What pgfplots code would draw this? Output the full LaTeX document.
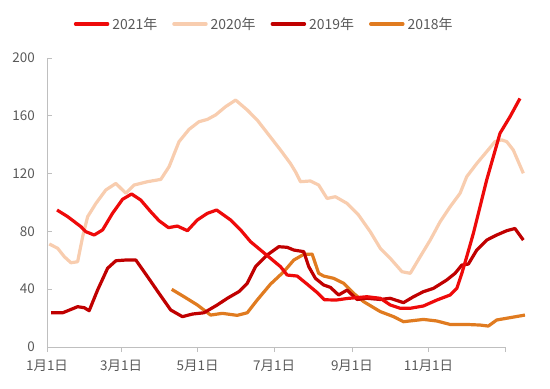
\documentclass[border=0pt]{standalone}
\usepackage{fontspec}
\setmainfont{Noto Sans CJK SC}
\usepackage{pgfplots}
\pgfplotsset{compat=1.18}
\definecolor{c21}{HTML}{EE0A0A}
\definecolor{c20}{HTML}{F8CDAF}
\definecolor{c19}{HTML}{C00000}
\definecolor{c18}{HTML}{E07B20}
\definecolor{axgray}{HTML}{BFBFBF}
\definecolor{txtgray}{HTML}{595959}
\begin{document}
\begin{tikzpicture}[x=1bp,y=1bp]
\useasboundingbox (0,0) rectangle (550,388);
\begin{axis}[
  at={(47bp,41bp)}, anchor=south west,
  scale only axis, width=458bp, height=289bp,
  xmin=0, xmax=365, ymin=0, ymax=200,
  clip=false,
  axis lines*=left,
  axis line style={color=axgray, line width=1bp},
  xtick={0,59,120,181,243,304,365},
  xticklabels={1月1日,3月1日,5月1日,7月1日,9月1日,11月1日,},
  ytick={0,40,80,120,160,200},
  xtick align=outside, ytick align=inside,
  major tick length=5bp,
  tick style={color=axgray, line width=0.8bp},
  /pgf/number format/assume math mode=true,
  ticklabel style={font=\fontsize{13.5}{13.5}\selectfont, text=txtgray},
  yticklabel style={inner sep=0pt, xshift=-12bp},
  xticklabel style={inner sep=0pt, yshift=-8bp},
  legend columns=4,
  reverse legend,
  legend style={at={(0.473,1.1176)}, anchor=center, draw=none, fill=none,
    font=\fontsize{14}{14}\selectfont, text=txtgray,
    column sep=2bp, nodes={inner xsep=1bp},
    /tikz/every even column/.append style={column sep=14bp}},
  legend image code/.code={\draw[#1, line width=3.5bp, line cap=round] (0bp,0bp) -- (32bp,0bp);},
  every axis plot/.append style={line width=3.2bp, line join=round, mark=none},
]
\addplot[c18] table {
99.4 39.9
109.2 34.8
119.8 29.1
130.4 22.1
139.7 23.3
151.6 21.9
159.6 23.7
167.5 32.5
178.1 43.5
188.7 52.1
196.7 60.2
204.6 64.1
211.3 64.3
216.5 51
220.5 49.1
228.5 47.5
236.4 44.1
244.4 37.1
252.3 31.4
265.6 24.5
276.2 21
284.1 17.5
300.0 19.1
310.7 18
321.3 15.6
334.5 15.6
345.1 15.2
351.7 14.5
358.4 18.7
369.0 20.3
380.9 22.1
};
\addlegendentry{2018年}
\addplot[c19] table {
3.2 23.7
12.5 23.7
19.1 26
24.4 27.9
29.7 27.2
33.6 25.1
40.3 39.4
48.3 54.5
54.9 59.7
62.8 60.2
70.8 60.2
80.1 48.7
89.3 37.1
98.6 25.6
107.9 21
115.9 22.8
125.1 23.7
135.7 29.1
143.7 33.7
152.9 38.3
159.6 44.1
166.2 55.6
175.5 63.7
184.7 69.4
191.4 69
196.7 67.1
204.6 66
208.6 55.6
213.9 47.5
220.5 42.9
225.8 41.3
232.4 36
239.1 39.4
247.1 32.9
255.0 33.7
265.6 32.9
273.5 33.7
284.1 30.7
292.1 34.8
300.0 38.3
308.0 40.6
318.6 46.4
325.2 51
330.6 56.7
335.8 57.4
342.5 67.1
350.4 74
358.4 77.5
366.4 80.5
372.9 82
379.6 74
};
\addlegendentry{2019年}
\addplot[c20] table {
1.8 71.3
8.5 68.3
13.8 62.5
19.1 58.3
24.4 59
28.4 76.3
32.4 90.2
39.0 99.4
46.9 108.7
54.9 113.2
62.8 106.4
69.4 112.1
80.1 114.4
90.7 116
97.3 124.8
105.2 142.1
113.2 150.6
121.1 155.9
127.8 157.5
134.4 160.6
142.3 166.3
150.3 170.9
159.6 164
167.5 157.1
176.8 146.7
186.1 136.3
194.0 127
198.0 121.3
202.0 114.4
209.9 114.9
216.5 112.1
223.2 102.8
229.8 104
239.1 99.4
248.3 91.3
257.6 79.8
265.6 68.3
273.5 61.4
282.9 52.1
289.5 51
297.4 62.5
305.4 74
313.3 86.7
321.3 97.1
329.2 106.4
334.5 117.9
342.5 127
350.4 135.2
357.0 142.1
362.4 143.3
366.4 142.1
371.6 136.3
379.6 120.2
};
\addlegendentry{2020年}
\addplot[c21] table {
8.0 94.8
16.5 90.2
27.0 83.3
31.0 79.8
37.6 77.5
44.3 81
52.2 92.5
60.2 102.2
67.4 105.9
74.7 101.7
82.7 93.6
89.3 87.4
96.8 82.6
103.9 83.7
111.9 80.5
119.8 87.9
127.8 92.5
135.2 94.8
146.3 87.9
154.3 81
162.2 72.9
170.2 67.1
178.1 61.4
186.1 55.6
191.4 49.8
199.4 49.1
207.3 43.5
215.3 37.7
221.1 32.7
230.6 32.5
239.4 33.6
255.0 34.8
265.6 33.7
273.5 29.1
281.5 26.8
289.5 26.8
300.0 28.4
310.7 32.5
321.3 36
326.6 40.6
330.6 51
334.5 62.5
339.8 78.7
345.1 97.1
350.4 115.6
355.7 131.7
361.0 147.9
369.0 159.4
376.9 172
};
\addlegendentry{2021年}
\end{axis}
\end{tikzpicture}
\end{document}
